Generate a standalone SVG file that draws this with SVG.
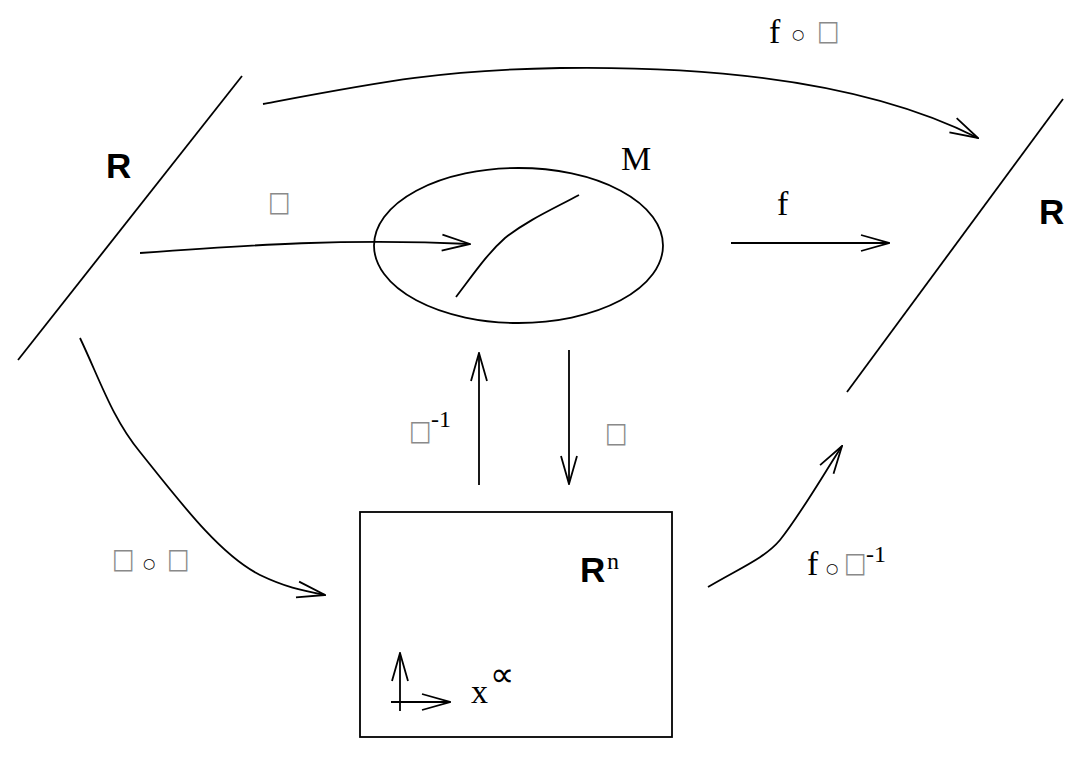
<svg xmlns="http://www.w3.org/2000/svg" width="1083" height="757" viewBox="0 0 1083 757">
<defs>
<marker id="ah" viewBox="0 0 30 20" refX="29" refY="10" markerWidth="30" markerHeight="20" markerUnits="userSpaceOnUse" orient="auto">
<path d="M1,2 L29,10 L1,18" fill="none" stroke="#000" stroke-width="1.8"/>
</marker>
<style>
.ln{fill:none;stroke:#000;stroke-width:1.8}
.ar{fill:none;stroke:#000;stroke-width:1.8;marker-end:url(#ah)}
.t{font-family:"Liberation Serif","Times New Roman",serif;font-size:34px;fill:#000}
.s{font-family:"Liberation Serif","Times New Roman",serif;font-size:24px;fill:#000}
.b{font-family:"Liberation Sans",Arial,sans-serif;font-weight:bold;font-size:35px;fill:#000}
.q{font-family:"DejaVu Sans",sans-serif;font-size:28px;fill:#8a8a8a}
.o{font-family:"DejaVu Sans",sans-serif;font-size:14px;fill:#000}
</style>
</defs>
<rect width="1083" height="757" fill="#fff"/>
<g id="lineR1"><line class="ln" x1="18" y1="360" x2="242" y2="76"/><text class="b" x="106" y="178">R</text></g>
<g id="lineR2"><line class="ln" x1="847" y1="392" x2="1063" y2="99"/><text class="b" x="1039" y="224">R</text></g>
<g id="manifold">
<ellipse class="ln" cx="518.5" cy="245.5" rx="144.5" ry="77.5"/>
<path class="ln" d="M456,297 C475,272 488,253 505,238 C528,220 553,209 579,195"/>
<text class="t" x="621" y="170">M</text>
</g>
<g id="Rn">
<rect class="ln" x="360" y="512" width="312" height="225"/>
<text class="b" x="580" y="582">R</text><text class="s" x="607" y="569">n</text>
<line class="ar" x1="400" y1="711" x2="400" y2="653"/>
<line class="ar" x1="391" y1="702" x2="450" y2="702"/>
<text class="t" x="471" y="703" font-size="32">x</text><text class="t" x="490" y="686" font-size="30">∝</text>
</g>
<g id="connectors">
<path class="ar" d="M263,104 C380,82 440,70 560,68 C700,66 860,78 978,138"/>
<path class="ar" d="M140,253 C250,245 350,238 470,244"/>
<line class="ar" x1="731" y1="243" x2="889" y2="243"/>
<line class="ar" x1="479" y1="485" x2="479" y2="353"/>
<line class="ar" x1="569" y1="350" x2="569" y2="484"/>
<path class="ar" d="M80,338 C100,380 112,418 140,452 C180,502 220,555 260,575 C285,587 300,590 325,595"/>
<path class="ar" d="M708,587 C740,568 765,558 780,540 C800,515 820,480 842,446"/>
</g>
<g id="labels">
<text class="t" x="769" y="43">f</text><text class="o" x="792" y="39">○</text><text class="q" transform="translate(817,40) scale(0.85,1)">□</text>
<text class="q" transform="translate(268,211) scale(0.85,1)">□</text>
<text class="t" x="777" y="215">f</text>
<text class="q" transform="translate(409,440) scale(0.85,1)">□</text><text class="s" x="431" y="427">-1</text>
<text class="q" transform="translate(605,442) scale(0.85,1)">□</text>
<text class="q" transform="translate(112,568) scale(0.85,1)">□</text><text class="o" x="143" y="568">○</text><text class="q" transform="translate(167,568) scale(0.85,1)">□</text>
<text class="t" x="807" y="575">f</text><text class="o" x="826" y="573">○</text><text class="q" transform="translate(844,572) scale(0.85,1)">□</text><text class="s" x="866" y="562">-1</text>
</g>
</svg>
